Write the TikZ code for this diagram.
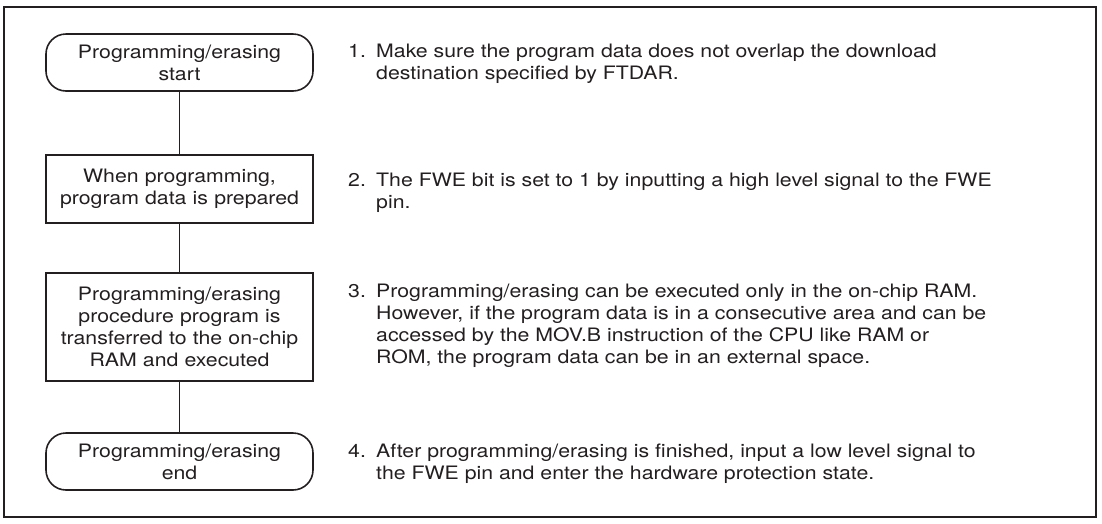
\documentclass[tikz,border=0pt]{standalone}
\usepackage{fontspec}
\setmainfont{TeX Gyre Heros}[FakeStretch=1.15]
\definecolor{ink}{RGB}{35,31,32}
\newcommand\bodyfont{\fontsize{18.5}{22}\selectfont}
\begin{document}
\begin{tikzpicture}[x=1pt,y=-1pt,
  box/.style={draw=ink, line width=1.6pt, minimum width=267pt, text width=262pt,
    align=center, inner sep=2pt, font=\bodyfont, text=ink},
  term/.style={box, rounded corners=20pt},
  proc/.style={box},
  link/.style={draw=ink, line width=1pt},
  num/.style={anchor=base west, inner sep=0pt, font=\bodyfont, text=ink},
  note/.style={anchor=north west, inner sep=0pt, font=\bodyfont, text=ink, align=left},
  frame/.style={draw=ink, line width=2pt}]
\useasboundingbox (0,0) rectangle (1102,523);
\draw[frame] (4,7) rectangle (1096,517);

\node[term, minimum height=57pt] (b1) at (179.5,62.5) {Programming/erasing\\start};
\node[proc, minimum height=68pt] (b2) at (179.5,189) {When programming,\\program data is prepared};
\node[proc, minimum height=108pt] (b3) at (179.5,327) {Programming/erasing\\procedure program is\\transferred to the on-chip\\RAM and executed};
\node[term, minimum height=57pt] (b4) at (179.5,461.5) {Programming/erasing\\end};

\draw[link] (b1) -- (b2);
\draw[link] (b2) -- (b3);
\draw[link] (b3) -- (b4);

\node[num] (n1) at (348,57) {1.};
\node[note] (t1) at (376,41.6) {\strut Make sure the program data does not overlap the download\\destination specified by FTDAR.};
\node[num] (n2) at (348,186) {2.};
\node[note] (t2) at (376,170.6) {\strut The FWE bit is set to 1 by inputting a high level signal to the FWE\\pin.};
\node[num] (n3) at (348,297) {3.};
\node[note] (t3) at (376,281.6) {\strut Programming/erasing can be executed only in the on-chip RAM.\\However, if the program data is in a consecutive area and can be\\accessed by the MOV.B instruction of the CPU like RAM or\\ROM, the program data can be in an external space.};
\node[num] (n4) at (348,457) {4.};
\node[note] (t4) at (376,441.6) {\strut After programming/erasing is finished, input a low level signal to\\the FWE pin and enter the hardware protection state.};
\end{tikzpicture}
\end{document}
